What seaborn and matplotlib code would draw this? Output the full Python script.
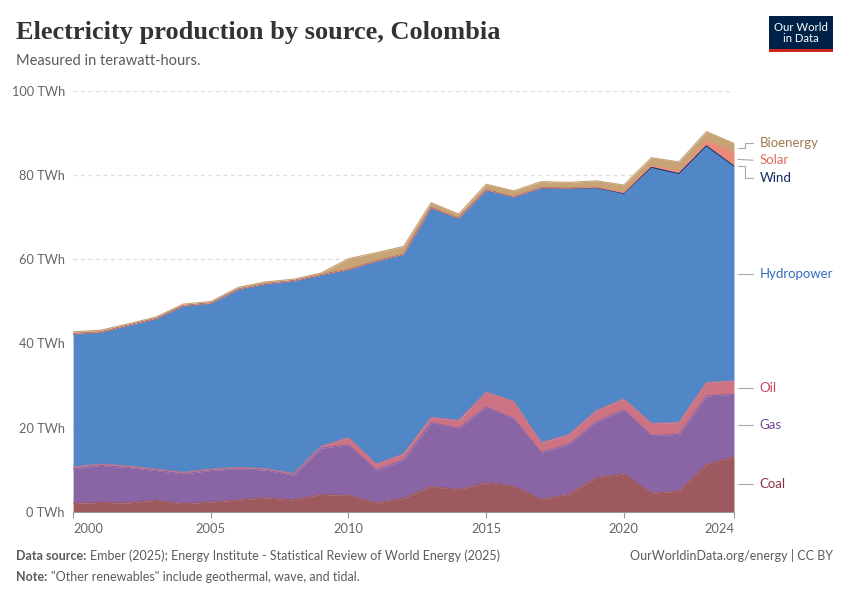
import matplotlib
matplotlib.use("Agg")
import matplotlib.pyplot as plt
import seaborn as sns
import numpy as np
import pandas as pd
from matplotlib.patches import Rectangle

years = list(range(2000, 2025))
coal = [2.0, 2.2, 2.1, 2.7, 1.9, 2.3, 2.8, 3.3, 2.8, 4.1, 3.9, 2.1, 3.2, 6.0, 5.3, 6.9, 6.1, 2.9, 4.2, 8.1, 9.0, 4.4, 4.9, 11.3, 13.1]
gas = [8.2, 8.8, 8.4, 7.1, 7.1, 7.5, 7.4, 6.6, 5.9, 11.0, 12.0, 7.8, 9.1, 15.2, 14.5, 18.0, 16.0, 11.2, 11.8, 13.3, 15.2, 13.7, 13.5, 16.2, 14.8]
oil = [0.4, 0.3, 0.3, 0.3, 0.3, 0.3, 0.3, 0.3, 0.3, 0.4, 1.7, 1.4, 1.4, 1.2, 1.9, 3.5, 4.1, 2.3, 2.3, 2.6, 2.6, 2.9, 2.8, 3.2, 3.2]
hydro = [31.6, 31.3, 33.4, 35.7, 39.6, 39.4, 42.3, 43.9, 45.8, 40.7, 39.9, 48.2, 47.4, 49.8, 48.0, 48.0, 48.6, 60.5, 58.5, 53.0, 48.8, 60.8, 59.1, 56.2, 51.0]
wind = [0.05] * 25
solar = [0, 0, 0, 0, 0, 0, 0, 0, 0, 0, 0, 0, 0, 0, 0, 0, 0.01, 0.02, 0.03, 0.1, 0.2, 0.4, 0.6, 1.2, 3.2]
bio = [0.5, 0.5, 0.4, 0.4, 0.4, 0.4, 0.5, 0.5, 0.4, 0.5, 2.6, 2.0, 1.9, 1.2, 1.0, 1.4, 1.4, 1.5, 1.4, 1.5, 1.8, 1.9, 2.2, 2.2, 2.2]

sources = ["Coal", "Gas", "Oil", "Hydropower", "Wind", "Solar", "Bioenergy"]
area_colors = ["#9e595f", "#8a65a6", "#ce7383", "#5187c7", "#1d3a72", "#ec8a7a", "#c7a376"]
label_colors = ["#8c3440", "#71479a", "#c4455c", "#2f6bbf", "#102a5e", "#e06a58", "#a07a50"]

df = pd.DataFrame({"Year": years, "Coal": coal, "Gas": gas, "Oil": oil, "Hydropower": hydro,
                   "Wind": wind, "Solar": solar, "Bioenergy": bio})

sns.set_theme(style="white")
plt.rcParams["font.family"] = ["Lato", "DejaVu Sans"]

fig = plt.figure(figsize=(8.5, 6), dpi=100)
ax = fig.add_axes([0.086, 0.1472, 0.7775, 0.7011])

vals = [df[s].to_numpy() for s in sources]
cum = np.cumsum(np.vstack(vals), axis=0)
ax.stackplot(df["Year"], *vals, colors=area_colors, linewidth=0, zorder=2)
for i, s in enumerate(sources):
    sns.lineplot(x=df["Year"], y=cum[i], ax=ax, color=area_colors[i], linewidth=0.8, zorder=3)

ax.set_xlim(2000, 2024)
ax.set_ylim(0, 100)
yt = [0, 20, 40, 60, 80, 100]
ax.set_yticks(yt)
ax.set_yticklabels([f"{v} TWh" for v in yt], fontsize=9.2, color="#666666")
for v in yt[1:]:
    ax.axhline(v, color="#dddddd", linestyle=(0, (3, 3)), linewidth=0.9, zorder=1)
ax.tick_params(axis="y", length=0, pad=6)
xt = [2000, 2005, 2010, 2015, 2020, 2024]
ax.set_xticks(xt)
labs = ax.set_xticklabels([str(v) for v in xt], fontsize=9.3, color="#666666")
labs[0].set_ha("left")
labs[-1].set_ha("right")
ax.tick_params(axis="x", length=4, width=0.8, color="#999999", pad=4, bottom=True)
ax.set_xlabel("")
ax.set_ylabel("")
for sp in ["top", "right", "left"]:
    ax.spines[sp].set_visible(False)
ax.spines["bottom"].set_color("#999999")
ax.spines["bottom"].set_linewidth(0.8)
ax.spines["bottom"].set_zorder(4)

# Right-side labels
mids = [(cum[i][-1] + (cum[i - 1][-1] if i > 0 else 0)) / 2 for i in range(len(sources))]
label_y = list(mids)
label_y[6] = mids[6] + 1.2   # Bioenergy
label_y[5] = mids[5] - 0.2   # Solar
label_y[4] = mids[4] - 2.7   # Wind
trans = ax.get_yaxis_transform()
x0, x1, xm = 1.006, 1.029, 1.016
for i, s in enumerate(sources):
    ys, yl = mids[i] if i != 4 else cum[3][-1], label_y[i]
    if abs(yl - ys) > 0.8:
        ax.plot([x0, xm, xm, x1], [ys, ys, yl, yl], transform=trans, color="#aaaaaa",
                linewidth=0.8, clip_on=False)
    else:
        ax.plot([x0, x1], [ys, yl], transform=trans, color="#aaaaaa", linewidth=0.8, clip_on=False)
    ax.text(1.039, yl, s, transform=trans, fontsize=9.5, color=label_colors[i],
            va="center", ha="left")

# Titles
fig.text(16 / 850, 1 - 32 / 600, "Electricity production by source, Colombia",
         fontsize=19, fontweight="bold", color="#333333", va="center", ha="left",
         family=["Liberation Serif", "DejaVu Serif"])
fig.text(16 / 850, 1 - 61 / 600, "Measured in terawatt-hours.", fontsize=10.5,
         color="#5b5b5b", va="center", ha="left")

# Logo
fig.patches.append(Rectangle((769 / 850, 1 - 52 / 600), 64 / 850, 36 / 600,
                             transform=fig.transFigure, facecolor="#002147", edgecolor="none"))
fig.patches.append(Rectangle((769 / 850, 1 - 52 / 600), 64 / 850, 3 / 600,
                             transform=fig.transFigure, facecolor="#ce261e", edgecolor="none"))
fig.text(801 / 850, 1 - 33 / 600, "Our World\nin Data", fontsize=8.2, color="white",
         ha="center", va="center", linespacing=1.0)

# Footer
renderer = fig.canvas.get_renderer()
def label_pair(y, bold, rest):
    t = fig.text(16 / 850, 1 - y / 600, bold, fontsize=9, color="#5b5b5b",
                 fontweight="bold", va="center", ha="left")
    bb = t.get_window_extent(renderer=renderer)
    fig.text((bb.x1 + 4) / 850, 1 - y / 600, rest, fontsize=9, color="#5b5b5b",
             va="center", ha="left")

label_pair(556, "Data source:",
           "Ember (2025); Energy Institute - Statistical Review of World Energy (2025)")
label_pair(577, "Note:", "\"Other renewables\" include geothermal, wave, and tidal.")
fig.text(833 / 850, 1 - 556 / 600, "OurWorldinData.org/energy | CC BY", fontsize=9,
         color="#5b5b5b", va="center", ha="right")

fig.savefig("out.png", dpi=100)
